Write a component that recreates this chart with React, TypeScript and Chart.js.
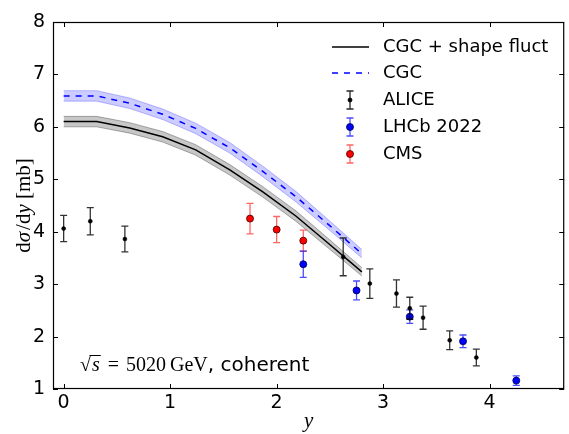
import React, { useEffect, useRef } from "react";
import { Chart, registerables } from "chart.js";
Chart.register(...registerables);

// ---- data ----
const curveRap = [0, 0.31, 0.62, 0.93, 1.24, 1.56, 1.87, 2.18, 2.49, 2.8];
const fluctMid = [6.1, 6.1, 5.98, 5.81, 5.56, 5.18, 4.76, 4.3, 3.77, 3.235];
const fluctLow = [6.0, 6.0, 5.88, 5.71, 5.46, 5.08, 4.66, 4.2, 3.68, 3.155];
const fluctHigh = [6.2, 6.2, 6.08, 5.91, 5.66, 5.28, 4.86, 4.4, 3.86, 3.315];
const cgcMid = [6.59, 6.59, 6.45, 6.24, 5.97, 5.6, 5.15, 4.67, 4.13, 3.58];
const cgcLow = [6.49, 6.49, 6.35, 6.14, 5.87, 5.5, 5.05, 4.57, 4.04, 3.5];
const cgcHigh = [6.69, 6.69, 6.55, 6.34, 6.07, 5.7, 5.25, 4.77, 4.22, 3.66];

const aliceRap = [0, 0.25, 0.575, 2.625, 2.875, 3.125, 3.25, 3.375, 3.625, 3.875];
const aliceVal = [4.06, 4.2, 3.86, 3.52, 3.01, 2.82, 2.54, 2.36, 1.93, 1.6];
const aliceErr = [0.25, 0.26, 0.245, 0.36, 0.28, 0.26, 0.21, 0.22, 0.18, 0.16];
const lhcbRap = [2.25, 2.75, 3.25, 3.75, 4.25];
const lhcbVal = [3.38, 2.88, 2.38, 1.91, 1.16];
const lhcbErr = [0.25, 0.18, 0.13, 0.12, 0.09];
const cmsRap = [1.75, 2.0, 2.25];
const cmsVal = [4.25, 4.04, 3.83];
const cmsErr = [0.29, 0.25, 0.2];

const xTicks = [0, 1, 2, 3, 4];
const yTicks = [1, 2, 3, 4, 5, 6, 7, 8];

const SANS = "'DejaVu Sans'";
const SERIF = "'Liberation Serif'";

const pts = (xs: number[], ys: number[]) => xs.map((x, i) => ({ x, y: ys[i] }));

type Run = { t: string; f: string; gap?: number };
function drawRuns(ctx: CanvasRenderingContext2D, runs: Run[], x: number, y: number, align: "left" | "center") {
  let total = 0;
  for (const r of runs) {
    ctx.font = r.f;
    total += ctx.measureText(r.t).width + (r.gap || 0);
  }
  let cx = align === "center" ? x - total / 2 : x;
  ctx.textAlign = "left";
  const pos: number[] = [];
  for (const r of runs) {
    cx += r.gap || 0;
    ctx.font = r.f;
    const w = ctx.measureText(r.t).width;
    ctx.fillText(r.t, cx, y);
    pos.push(cx, cx + w);
    cx += w;
  }
  return pos;
}

const errorBarPlugin = {
  id: "errbars",
  beforeDatasetDraw(chart: any, args: any) {
    const ds = chart.data.datasets[args.index];
    if (!ds.errors) return;
    const ctx = chart.ctx;
    const ys = chart.scales.y;
    ctx.save();
    ctx.strokeStyle = ds.errColor;
    ctx.lineWidth = 1.3;
    args.meta.data.forEach((pt: any, i: number) => {
      const v = ds.data[i].y;
      const e = ds.errors[i];
      const t = ys.getPixelForValue(v + e);
      const b = ys.getPixelForValue(v - e);
      const x = pt.x;
      ctx.beginPath();
      ctx.moveTo(x, t);
      ctx.lineTo(x, b);
      ctx.moveTo(x - 3.5, t);
      ctx.lineTo(x + 3.5, t);
      ctx.moveTo(x - 3.5, b);
      ctx.lineTo(x + 3.5, b);
      ctx.stroke();
    });
    ctx.restore();
  },
};

const decorPlugin = {
  id: "decor",
  afterDraw(chart: any) {
    const ctx: CanvasRenderingContext2D = chart.ctx;
    const { left, right, top, bottom } = chart.chartArea;
    const xs = chart.scales.x;
    const ys = chart.scales.y;
    ctx.save();
    // inner ticks
    ctx.strokeStyle = "#000";
    ctx.lineWidth = 1;
    ctx.beginPath();
    xTicks.forEach((v) => {
      const p = Math.round(xs.getPixelForValue(v)) + 0.5;
      ctx.moveTo(p, bottom);
      ctx.lineTo(p, bottom - 5);
      ctx.moveTo(p, top);
      ctx.lineTo(p, top + 5);
    });
    yTicks.forEach((v) => {
      const p = Math.round(ys.getPixelForValue(v)) + 0.5;
      ctx.moveTo(left, p);
      ctx.lineTo(left + 5, p);
      ctx.moveTo(right, p);
      ctx.lineTo(right - 5, p);
    });
    ctx.stroke();
    // frame
    ctx.lineWidth = 1.2;
    ctx.strokeRect(left + 0.5, top + 0.5, right - left - 1, bottom - top - 1);

    ctx.fillStyle = "#000";
    ctx.strokeStyle = "#000";
    ctx.textBaseline = "alphabetic";
    // x title
    drawRuns(ctx, [{ t: "y", f: `italic 21px ${SERIF}` }], (left + right) / 2, 427, "center");
    // y title
    ctx.save();
    ctx.translate(30, (top + bottom) / 2);
    ctx.rotate(-Math.PI / 2);
    drawRuns(
      ctx,
      [
        { t: "d", f: `21px ${SERIF}` },
        { t: "σ", f: `italic 21px ${SERIF}` },
        { t: "/", f: `21px ${SERIF}`, gap: 2 },
        { t: "d", f: `21px ${SERIF}` },
        { t: "y", f: `italic 21px ${SERIF}` },
        { t: " [mb]", f: `21px ${SERIF}` },
      ],
      0,
      0,
      "center"
    );
    ctx.restore();

    // annotation
    const base = 371;
    const p = drawRuns(
      ctx,
      [
        { t: "√", f: `20px ${SERIF}` },
        { t: "s", f: `italic 20px ${SERIF}`, gap: 1 },
        { t: "=", f: `20px ${SERIF}`, gap: 8 },
        { t: "5020", f: `20px ${SERIF}`, gap: 7 },
        { t: "GeV", f: `20px ${SERIF}`, gap: 4 },
        { t: ", coherent", f: `20px ${SANS}` },
      ],
      80,
      base,
      "left"
    );
    ctx.lineWidth = 1;
    ctx.beginPath();
    ctx.moveTo(p[1] - 1.5, base - 15.5);
    ctx.lineTo(p[3] + 1, base - 15.5);
    ctx.stroke();

    // legend
    const lx0 = 332,
      lx1 = 369,
      tx = 383,
      mx = 350;
    const rows = [47, 73, 100, 127, 154];
    ctx.font = `18px ${SANS}`;
    ctx.textBaseline = "middle";
    ctx.textAlign = "left";
    ctx.strokeStyle = "#000";
    ctx.lineWidth = 1.5;
    ctx.beginPath();
    ctx.moveTo(lx0, rows[0]);
    ctx.lineTo(lx1, rows[0]);
    ctx.stroke();
    ctx.fillText("CGC + shape fluct", tx, rows[0]);
    ctx.strokeStyle = "#0000ff";
    ctx.setLineDash([6, 6]);
    ctx.beginPath();
    ctx.moveTo(lx0, rows[1]);
    ctx.lineTo(lx1, rows[1]);
    ctx.stroke();
    ctx.setLineDash([]);
    ctx.fillText("CGC", tx, rows[1]);
    const legErr = (y: number, col: string, fill: string, r: number, edge: string, label: string) => {
      ctx.strokeStyle = col;
      ctx.lineWidth = 1.3;
      ctx.beginPath();
      ctx.moveTo(mx, y - 9);
      ctx.lineTo(mx, y + 9);
      ctx.moveTo(mx - 3.5, y - 9);
      ctx.lineTo(mx + 3.5, y - 9);
      ctx.moveTo(mx - 3.5, y + 9);
      ctx.lineTo(mx + 3.5, y + 9);
      ctx.stroke();
      ctx.fillStyle = fill;
      ctx.strokeStyle = edge;
      ctx.lineWidth = 0.8;
      ctx.beginPath();
      ctx.arc(mx, y, r, 0, Math.PI * 2);
      ctx.fill();
      ctx.stroke();
      ctx.fillStyle = "#000";
      ctx.fillText(label, tx, y);
    };
    legErr(rows[2], "rgba(0,0,0,0.85)", "#000", 2, "#000", "ALICE");
    legErr(rows[3], "rgba(0,0,255,0.7)", "#0000ff", 3.5, "#000044", "LHCb 2022");
    legErr(rows[4], "rgba(255,0,0,0.6)", "#ff0000", 3.5, "#440000", "CMS");
    ctx.restore();
  },
};

export default function App() {
  const ref = useRef<HTMLCanvasElement>(null);
  useEffect(() => {
    document.body.style.margin = "0";
    const chart = new Chart(ref.current as HTMLCanvasElement, {
      type: "scatter",
      data: {
        datasets: [
          {
            label: "ALICE",
            data: pts(aliceRap, aliceVal),
            errors: aliceErr,
            errColor: "rgba(0,0,0,0.8)",
            pointRadius: 2,
            pointBackgroundColor: "#000",
            pointBorderColor: "#000",
            pointBorderWidth: 0.5,
            showLine: false,
            order: 0,
          } as any,
          {
            label: "LHCb 2022",
            data: pts(lhcbRap, lhcbVal),
            errors: lhcbErr,
            errColor: "rgba(0,0,255,0.7)",
            pointRadius: 3.5,
            pointBackgroundColor: "#0000ff",
            pointBorderColor: "#000044",
            pointBorderWidth: 0.8,
            showLine: false,
            order: 0,
          } as any,
          {
            label: "CMS",
            data: pts(cmsRap, cmsVal),
            errors: cmsErr,
            errColor: "rgba(255,0,0,0.6)",
            pointRadius: 3.5,
            pointBackgroundColor: "#ff0000",
            pointBorderColor: "#440000",
            pointBorderWidth: 0.8,
            showLine: false,
            order: 0,
          } as any,
          {
            label: "CGC + shape fluct",
            data: pts(curveRap, fluctMid),
            showLine: true,
            borderColor: "#000",
            borderWidth: 1.5,
            pointRadius: 0,
            fill: false,
            order: 1,
          },
          {
            label: "CGC",
            data: pts(curveRap, cgcMid),
            showLine: true,
            borderColor: "#0000ff",
            borderWidth: 1.5,
            borderDash: [6, 6],
            pointRadius: 0,
            fill: false,
            order: 1,
          },
          {
            label: "fluctLow",
            data: pts(curveRap, fluctLow),
            showLine: true,
            borderColor: "rgba(0,0,0,0.3)",
            borderWidth: 1,
            pointRadius: 0,
            fill: false,
            order: 2,
          },
          {
            label: "fluctHigh",
            data: pts(curveRap, fluctHigh),
            showLine: true,
            borderColor: "rgba(0,0,0,0.3)",
            borderWidth: 1,
            backgroundColor: "rgba(0,0,0,0.22)",
            pointRadius: 0,
            fill: 5,
            order: 2,
          },
          {
            label: "cgcLow",
            data: pts(curveRap, cgcLow),
            showLine: true,
            borderColor: "rgba(0,0,255,0.25)",
            borderWidth: 1,
            pointRadius: 0,
            fill: false,
            order: 2,
          },
          {
            label: "cgcHigh",
            data: pts(curveRap, cgcHigh),
            showLine: true,
            borderColor: "rgba(0,0,255,0.25)",
            borderWidth: 1,
            backgroundColor: "rgba(0,0,255,0.2)",
            pointRadius: 0,
            fill: 7,
            order: 2,
          },
        ],
      },
      options: {
        animation: false,
        responsive: false,
        events: [],
        layout: { padding: { top: 22, right: 2, left: 0, bottom: 0 } },
        plugins: {
          legend: { display: false },
          tooltip: { enabled: false },
        },
        scales: {
          x: {
            type: "linear",
            min: -0.1,
            max: 4.7,
            grid: { display: false, drawTicks: false },
            border: { display: false },
            afterBuildTicks: (s: any) => {
              s.ticks = xTicks.map((v) => ({ value: v }));
            },
            afterFit: (s: any) => {
              s.height = 45;
            },
            ticks: {
              color: "#000",
              font: { family: SANS, size: 19 },
              padding: 3,
              maxRotation: 0,
              callback: (v: any) => String(v),
            },
          },
          y: {
            type: "linear",
            min: 1,
            max: 8,
            grid: { display: false, drawTicks: false },
            border: { display: false },
            afterBuildTicks: (s: any) => {
              s.ticks = yTicks.map((v) => ({ value: v }));
            },
            afterFit: (s: any) => {
              s.width = 53;
            },
            ticks: {
              color: "#000",
              font: { family: SANS, size: 19 },
              padding: 8,
              callback: (v: any) => String(v),
            },
          },
        },
      },
      plugins: [errorBarPlugin, decorPlugin],
    } as any);
    return () => chart.destroy();
  }, []);
  return (
    <div style={{ width: 569, height: 434 }}>
      <canvas ref={ref} width={569} height={434} style={{ display: "block" }} />
    </div>
  );
}
